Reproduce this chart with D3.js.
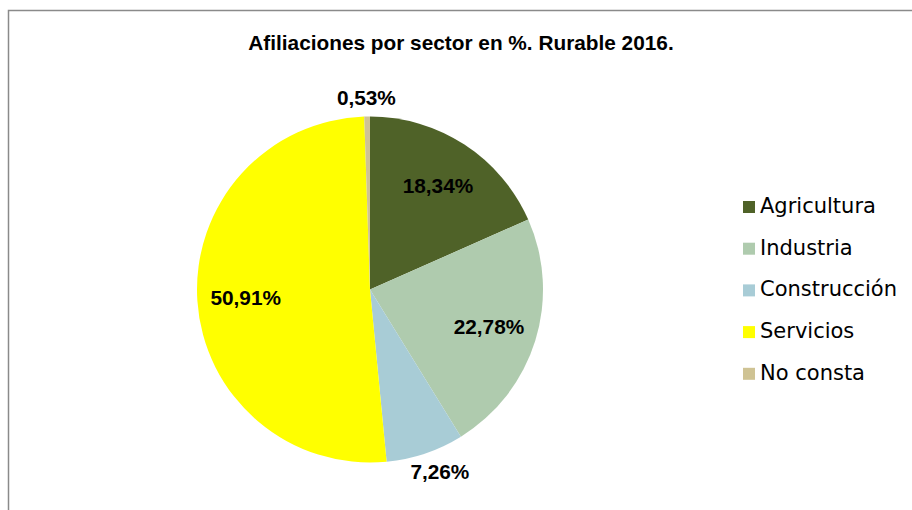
<!DOCTYPE html>
<html>
<head>
<meta charset="utf-8">
<script src="https://cdn.jsdelivr.net/npm/d3@7"></script>
<style>
  body { margin: 0; background: #fff; }
</style>
</head>
<body>
<script>
// sector names and their share of affiliations (%)
var sectors = ["Agricultura", "Industria", "Construcción", "Servicios", "No consta"];
var shares = [18.34, 22.78, 7.26, 50.91, 0.53];
var sectorColors = ["#4f6228", "#afcbae", "#a8ccd6", "#ffff00", "#cfc394"];
var chartTitle = "Afiliaciones por sector en %. Rurable 2016.";

var width = 912, height = 510;
var cx = 370, cy = 289.5, radius = 173;

var data = sectors.map((s, i) => ({ sector: s, value: shares[i] }));

const svg = d3.select("body").append("svg")
  .attr("width", width)
  .attr("height", height);

// chart frame (cut off on the right and bottom)
svg.append("rect")
  .attr("x", 8.5).attr("y", 10.5)
  .attr("width", 960).attr("height", 560)
  .attr("fill", "none")
  .attr("stroke", "#8a8a8a")
  .attr("stroke-width", 1.5);

svg.append("text")
  .attr("x", 461).attr("y", 50)
  .attr("text-anchor", "middle")
  .attr("font-family", "Liberation Sans, Arial, sans-serif")
  .attr("font-weight", "bold")
  .attr("font-size", 20.8)
  .text(chartTitle);

const color = d3.scaleOrdinal().domain(sectors).range(sectorColors);

const pie = d3.pie().sort(null).value((d) => d.value);
const arc = d3.arc().innerRadius(0).outerRadius(radius);
const arcs = pie(data);

const g = svg.append("g").attr("transform", "translate(" + cx + "," + cy + ")");

g.selectAll("path")
  .data(arcs)
  .enter()
  .append("path")
  .attr("d", arc)
  .attr("fill", (d) => color(d.data.sector));

// labels: inside for big slices, outside for small ones
const fmt = (v) => v.toFixed(2).replace(".", ",") + "%";
g.selectAll("text.lbl")
  .data(arcs)
  .enter()
  .append("text")
  .attr("class", "lbl")
  .attr("text-anchor", "middle")
  .attr("dominant-baseline", "central")
  .attr("font-family", "Liberation Sans, Arial, sans-serif")
  .attr("font-weight", "bold")
  .attr("font-size", 20.8)
  .attr("fill", "#000")
  .each(function (d) {
    var a = (d.startAngle + d.endAngle) / 2;
    var x, y;
    if (d.data.value > 10) {
      x = Math.sin(a) * radius * 0.72;
      y = -Math.cos(a) * radius * 0.72;
    } else {
      // anchor just outside the rim, then push the text box outwards
      var r = radius + 10;
      x = Math.sin(a) * r + Math.sin(a) * 36;
      y = -Math.cos(a) * r - Math.cos(a) * 9;
    }
    d3.select(this).attr("x", x).attr("y", y);
  })
  .text((d) => fmt(d.data.value));

// legend
const legend = svg.append("g").attr("transform", "translate(743,201)");
const rows = legend.selectAll("g")
  .data(sectors)
  .enter()
  .append("g")
  .attr("transform", (d, i) => "translate(0," + i * 41.7 + ")");

rows.append("rect")
  .attr("width", 12).attr("height", 12)
  .attr("fill", (d) => color(d));

rows.append("text")
  .attr("x", 17).attr("y", 12)
  .attr("font-family", "DejaVu Sans, Verdana, sans-serif")
  .attr("font-size", 21)
  .attr("fill", "#000")
  .text((d) => d);
</script>
</body>
</html>
